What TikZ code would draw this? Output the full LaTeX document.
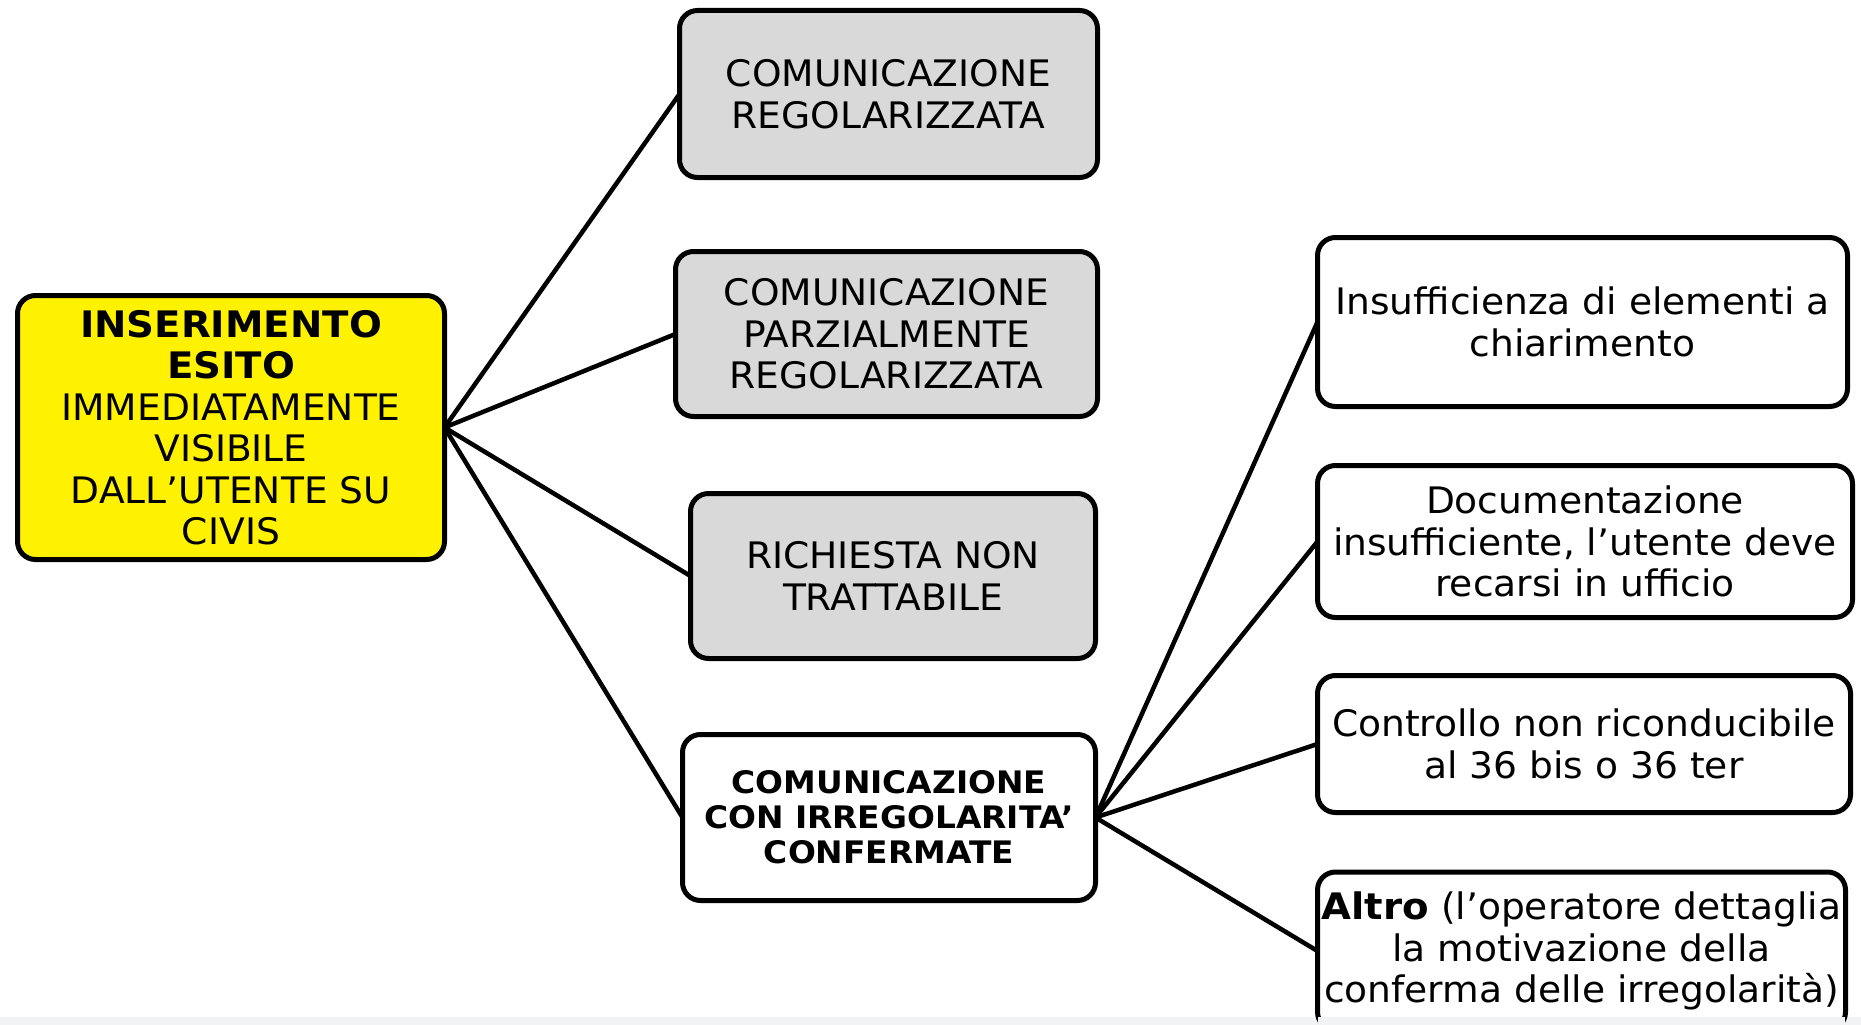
\documentclass[tikz,border=0pt]{standalone}
\usepackage{fontspec}
\setmainfont{DejaVu Sans}[FakeStretch=1.03, BoldFeatures={FakeStretch=1.06}]
\definecolor{boxgray}{HTML}{D9D9D9}
\definecolor{stripgray}{HTML}{F2F3F5}
\begin{document}
\begin{tikzpicture}[x=1pt,y=-1pt,
  box/.style={draw=black, line width=5pt, rounded corners=18pt, align=center,
    inner sep=0pt, outer sep=0pt, font=\fontsize{36.5}{41.5}\selectfont},
  graybox/.style={box, fill=boxgray},
  whitebox/.style={box, fill=white},
  conn/.style={draw=black, line width=4.5pt}]
\useasboundingbox (0,0) rectangle (1861,1025);
\fill[white] (0,0) rectangle (1861,1025);
\fill[stripgray] (0,1017) rectangle (1861,1025);
% centre node
\node[box, fill=yellow, minimum width=427pt, minimum height=264pt] (Y) at (231,427.5)
  {\textbf{INSERIMENTO}\\\textbf{ESITO}\\IMMEDIATAMENTE\\VISIBILE\\DALL’UTENTE SU\\CIVIS};
% middle column
\node[graybox, minimum width=418pt, minimum height=167pt] (B1) at (888.5,94)
  {COMUNICAZIONE\\REGOLARIZZATA};
\node[graybox, minimum width=422pt, minimum height=165pt] (B2) at (886.5,334)
  {COMUNICAZIONE\\PARZIALMENTE\\REGOLARIZZATA};
\node[graybox, minimum width=405pt, minimum height=165pt] (B3) at (893,576)
  {RICHIESTA NON\\TRATTABILE};
\node[whitebox, minimum width=413pt, minimum height=166pt,
  font=\bfseries\fontsize{31}{35}\selectfont] (B4) at (889,817.5)
  {COMUNICAZIONE\\CON IRREGOLARITA’\\CONFERMATE};
% right column
\node[whitebox, minimum width=530pt, minimum height=169pt] (R1) at (1582.5,322)
  {Insufficienza di elementi a\\chiarimento};
\node[whitebox, minimum width=535pt, minimum height=152pt] (R2) at (1585,541.5)
  {Documentazione\\insufficiente, l’utente deve\\recarsi in ufficio};
\node[whitebox, minimum width=533pt, minimum height=137pt] (R3) at (1584,744)
  {Controllo non riconducibile\\al 36 bis o 36 ter};
\node[whitebox, minimum width=528pt, minimum height=158pt] (R4) at (1581.5,951)
  {\textbf{Altro} (l’operatore dettaglia\\la motivazione della\\conferma delle irregolarità)};
\fill[stripgray] (1318,1017) rectangle (1845,1025);
% connectors
\foreach \t in {B1,B2,B3,B4} \draw[conn] (Y.east) -- (\t.west);
\foreach \t in {R1,R2,R3,R4} \draw[conn] (B4.east) -- (\t.west);
\end{tikzpicture}
\end{document}
